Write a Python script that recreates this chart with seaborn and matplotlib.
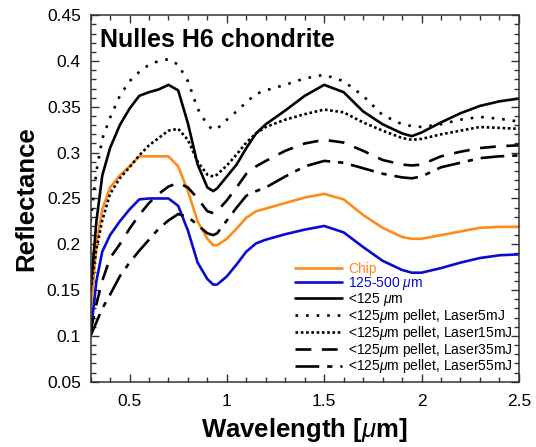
import matplotlib
matplotlib.use("Agg")
import matplotlib.pyplot as plt
import seaborn as sns
import pandas as pd
from matplotlib.ticker import MultipleLocator

# wavelength grid (um)
wavelength = [0.30, 0.33, 0.36, 0.40, 0.45, 0.50, 0.55, 0.60, 0.65, 0.70, 0.75,
              0.80, 0.85, 0.90, 0.93, 0.95, 1.00, 1.05, 1.10, 1.15, 1.20, 1.30,
              1.40, 1.50, 1.60, 1.70, 1.80, 1.90, 1.95, 2.00, 2.10, 2.20, 2.30,
              2.40, 2.50]

chip = [0.125, 0.200, 0.238, 0.262, 0.275, 0.285, 0.296, 0.296, 0.296, 0.296, 0.285,
        0.258, 0.225, 0.206, 0.199, 0.199, 0.206, 0.217, 0.229, 0.236, 0.239, 0.245,
        0.251, 0.255, 0.249, 0.232, 0.218, 0.208, 0.206, 0.206, 0.210, 0.214, 0.218,
        0.219, 0.219]

grain_125_500 = [0.101, 0.160, 0.192, 0.210, 0.225, 0.238, 0.249, 0.250, 0.250, 0.250, 0.242,
                 0.215, 0.180, 0.162, 0.156, 0.156, 0.165, 0.178, 0.192, 0.201, 0.205, 0.211,
                 0.216, 0.220, 0.213, 0.197, 0.182, 0.172, 0.169, 0.169, 0.174, 0.180, 0.185,
                 0.188, 0.189]

grain_lt125 = [0.150, 0.225, 0.275, 0.305, 0.330, 0.348, 0.362, 0.366, 0.369, 0.374, 0.368,
               0.332, 0.287, 0.262, 0.258, 0.261, 0.274, 0.287, 0.305, 0.321, 0.331, 0.346,
               0.362, 0.374, 0.366, 0.345, 0.331, 0.321, 0.318, 0.322, 0.333, 0.343, 0.351,
               0.356, 0.359]

laser5 = [0.225, 0.280, 0.315, 0.338, 0.362, 0.378, 0.388, 0.396, 0.400, 0.402, 0.396,
          0.378, 0.348, 0.330, 0.325, 0.326, 0.336, 0.345, 0.355, 0.364, 0.368, 0.374,
          0.381, 0.385, 0.378, 0.362, 0.341, 0.331, 0.329, 0.328, 0.331, 0.336, 0.339,
          0.337, 0.334]

laser15 = [0.150, 0.195, 0.226, 0.255, 0.272, 0.284, 0.297, 0.308, 0.316, 0.324, 0.326,
           0.314, 0.290, 0.276, 0.274, 0.276, 0.286, 0.298, 0.311, 0.321, 0.328, 0.336,
           0.342, 0.347, 0.344, 0.333, 0.324, 0.316, 0.314, 0.315, 0.320, 0.324, 0.328,
           0.327, 0.326]

laser35 = [0.105, 0.135, 0.160, 0.185, 0.200, 0.217, 0.232, 0.245, 0.255, 0.263, 0.267,
           0.262, 0.250, 0.236, 0.234, 0.236, 0.248, 0.262, 0.277, 0.285, 0.291, 0.302,
           0.310, 0.314, 0.311, 0.302, 0.292, 0.287, 0.286, 0.287, 0.296, 0.301, 0.305,
           0.307, 0.308]

laser55 = [0.100, 0.115, 0.130, 0.145, 0.165, 0.180, 0.193, 0.205, 0.217, 0.226, 0.233,
           0.230, 0.221, 0.212, 0.210, 0.212, 0.226, 0.240, 0.253, 0.258, 0.262, 0.274,
           0.285, 0.291, 0.289, 0.283, 0.277, 0.273, 0.272, 0.274, 0.284, 0.289, 0.294,
           0.296, 0.297]

labels = ["Chip", r"125-500 $\mu$m", r"<125 $\mu$m",
          r"<125$\mu$m pellet, Laser5mJ", r"<125$\mu$m pellet, Laser15mJ",
          r"<125$\mu$m pellet, Laser35mJ", r"<125$\mu$m pellet, Laser55mJ"]
series = [chip, grain_125_500, grain_lt125, laser5, laser15, laser35, laser55]
colors = ["#ff8c1a", "#0a0ad2", "black", "black", "black", "black", "black"]
styles = ["-", "-", "-", (0, (1, 3)), (0, (1, 1)), (0, (6, 4)), (0, (9, 3, 2, 3))]

sns.set_style("ticks")
plt.rcParams["font.family"] = ["Liberation Sans", "DejaVu Sans"]
plt.rcParams["mathtext.fontset"] = "custom"
plt.rcParams["mathtext.it"] = "Liberation Sans:italic"
plt.rcParams["mathtext.bf"] = "Liberation Sans:bold:italic"
for key in ["text.color", "axes.labelcolor", "xtick.color", "ytick.color", "axes.edgecolor"]:
    plt.rcParams[key] = "black"

fig = plt.figure(figsize=(5.36, 4.47), dpi=100)
ax = fig.add_axes([0.169, 0.146, 0.799, 0.820])

for lab, vals, col, ls in zip(labels, series, colors, styles):
    df = pd.DataFrame({"Wavelength": wavelength, "Reflectance": vals})
    sns.lineplot(data=df, x="Wavelength", y="Reflectance", ax=ax, color=col,
                 linestyle=ls, linewidth=1.9, label=lab)

ax.set_xlim(0.3, 2.5)
ax.set_ylim(0.05, 0.45)
ax.set_xticks([0.5, 1.0, 1.5, 2.0, 2.5])
ax.set_xticklabels(["0.5", "1", "1.5", "2", "2.5"])
ax.set_yticks([0.05, 0.1, 0.15, 0.2, 0.25, 0.3, 0.35, 0.4, 0.45])
ax.set_yticklabels(["0.05", "0.1", "0.15", "0.2", "0.25", "0.3", "0.35", "0.4", "0.45"])
ax.xaxis.set_minor_locator(MultipleLocator(0.1))
ax.yaxis.set_minor_locator(MultipleLocator(0.01))
ax.tick_params(which="both", direction="in", top=True, right=True, labelsize=12.5,
               color="#333333")
ax.tick_params(which="major", length=6, width=1)
ax.tick_params(which="minor", length=3.5, width=1)
ax.tick_params(axis="x", which="major", pad=9)
ax.tick_params(axis="y", which="major", pad=7)
for s in ax.spines.values():
    s.set_linewidth(1.1)
    s.set_color("#333333")

ax.set_xlabel(r"Wavelength [$\mu$m]", fontsize=18.5, fontweight="bold", labelpad=5)
ax.set_ylabel("Reflectance", fontsize=18.5, fontweight="bold", labelpad=6)
ax.text(0.022, 0.965, "Nulles H6 chondrite", transform=ax.transAxes,
        fontsize=18, fontweight="bold", va="top", ha="left")

leg = ax.legend(loc="lower right", bbox_to_anchor=(1.0, 0.0), frameon=False,
                fontsize=10.0, handlelength=3.4, handletextpad=0.4,
                labelspacing=-0.08, borderaxespad=0.05, labelcolor=colors)

plt.savefig("out.png", dpi=100)
